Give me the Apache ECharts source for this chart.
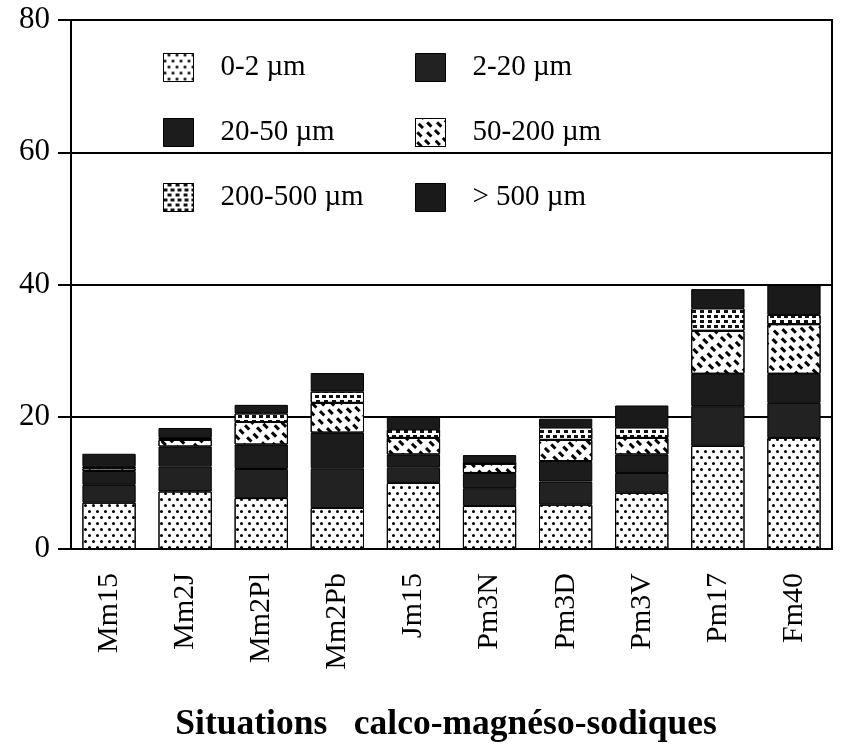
<!DOCTYPE html>
<html><head><meta charset="utf-8">
<script src="https://cdn.jsdelivr.net/npm/echarts@6/dist/echarts.min.js"></script>
<style>html,body{margin:0;padding:0;background:#fff}#c{width:842px;height:754px}</style>
</head><body><div id="c"></div>
<script>
const categories = ['Mm15','Mm2J','Mm2Pl','Mm2Pb','Jm15','Pm3N','Pm3D','Pm3V','Pm17','Fm40'];
const yTicks = [0, 20, 40, 60, 80];
const seriesNames = ['0-2 µm','2-20 µm','20-50 µm','50-200 µm','200-500 µm','> 500 µm'];
const v0_2     = [7.0, 8.7, 7.7, 6.2, 10.0, 6.5, 6.7, 8.5, 15.6, 16.8];
const v2_20    = [2.7, 3.8, 4.4, 6.0, 2.3, 2.7, 3.5, 3.0, 6.0, 5.3];
const v20_50   = [2.1, 3.0, 3.7, 5.4, 2.0, 2.3, 3.1, 2.8, 4.9, 4.4];
const v50_200  = [0.4, 1.0, 3.4, 4.5, 2.5, 1.4, 3.2, 2.5, 6.5, 7.5];
const v200_500 = [0.3, 0.3, 1.3, 1.7, 1.3, 0.0, 1.9, 1.6, 3.4, 1.4];
const v500     = [1.9, 1.5, 1.3, 2.8, 1.9, 1.3, 1.3, 3.3, 2.9, 4.5];
const titleText = 'Situations   calco-magnéso-sodiques';

const serif = 'Liberation Serif';
const styles = [
  {color:'#fff', decal:{symbol:'circle', symbolSize:1, color:'#000', dashArrayX:[[2.6,4.6],[0,3.6,2.6,1]], dashArrayY:[2.6,2.4]}},
  {color:'#222'},
  {color:'#1c1c1c'},
  {color:'#fff', decal:{symbol:'rect', symbolSize:1, color:'#000', dashArrayX:[[6,5],[0,5.5,6,0]], dashArrayY:[2.4,3.5], rotation:Math.PI/4}},
  {color:'#fff', decal:{symbol:'rect', symbolSize:1, color:'#111', dashArrayX:[[4,3],[0,3.5,4,0]], dashArrayY:[3,2]}},
  {color:'#1a1a1a'}
];
const data = [v0_2, v2_20, v20_50, v50_200, v200_500, v500];
const chart = echarts.init(document.getElementById('c'));
const legendCommon = {
  orient:'vertical', top:48, itemWidth:30, itemHeight:28, itemGap:36, icon:'rect',
  textStyle:{fontFamily:serif, fontSize:29, lineHeight:28, color:'#000', padding:[0,0,0,22]},
  itemStyle:{borderColor:'#000', borderWidth:1}, selectedMode:false
};
chart.setOption({
  animation:false,
  backgroundColor:'#fff',
  grid:{left:71, right:10, top:20, bottom:205, show:true, borderColor:'#000', borderWidth:2, backgroundColor:'transparent'},
  legend:[
    Object.assign({}, legendCommon, {left:158, data:[seriesNames[0], seriesNames[2], seriesNames[4]]}),
    Object.assign({}, legendCommon, {left:410, data:[seriesNames[1], seriesNames[3], seriesNames[5]]})
  ],
  xAxis:{type:'category', data:categories,
    axisLine:{lineStyle:{color:'#000', width:2}},
    axisTick:{alignWithLabel:true, length:14, lineStyle:{color:'#000', width:2}},
    axisLabel:{rotate:90, margin:24, fontFamily:serif, fontSize:30, color:'#000'}},
  yAxis:{type:'value', min:yTicks[0], max:yTicks[yTicks.length-1], interval:20,
    axisLine:{show:true, lineStyle:{color:'#000', width:2}},
    axisTick:{show:true, length:13, lineStyle:{color:'#000', width:2}},
    axisLabel:{margin:21, fontFamily:serif, fontSize:31, color:'#000'},
    splitLine:{show:true, lineStyle:{color:'#000', width:2}}},
  graphic:[{type:'text', x:446, y:725,
    style:{text:titleText, align:'center', verticalAlign:'middle', fontFamily:serif, fontSize:35.5, fontWeight:'bold', fill:'#000'}}],
  series: seriesNames.map((n,i)=>({
    name:n, type:'bar', stack:'s', barWidth:'70%', data:data[i],
    itemStyle:Object.assign({borderColor:'#000', borderWidth:1}, styles[i])
  }))
});
</script></body></html>
